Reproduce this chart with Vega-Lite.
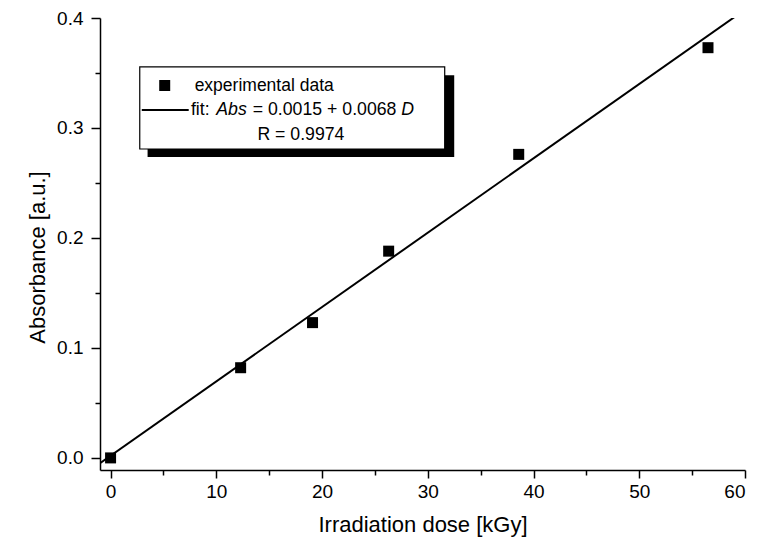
{
  "$schema": "https://vega.github.io/schema/vega-lite/v6.json",
  "width": 645,
  "height": 452,
  "autosize": "none",
  "padding": {"left": 100, "top": 18, "right": 17, "bottom": 70},
  "background": "white",
  "config": {
    "view": {"stroke": null},
    "font": "Liberation Sans",
    "axis": {
      "domainColor": "black", "domainWidth": 1.5,
      "tickColor": "black", "tickWidth": 1.5,
      "labelColor": "black", "titleColor": "black",
      "labelFont": "Liberation Sans", "titleFont": "Liberation Sans",
      "labelFontSize": 19, "titleFontSize": 22, "titleFontWeight": "normal",
      "grid": false
    }
  },
  "datasets": {
    "measured": [
      {"D": 0, "Abs": 0.0},
      {"D": 12.3, "Abs": 0.082},
      {"D": 19.1, "Abs": 0.123},
      {"D": 26.3, "Abs": 0.188},
      {"D": 38.6, "Abs": 0.276},
      {"D": 56.5, "Abs": 0.373}
    ],
    "fit": [
      {"D": -1, "Abs": -0.0048},
      {"D": 59.1, "Abs": 0.4015}
    ]
  },
  "layer": [
    {
      "data": {"name": "fit"},
      "mark": {"type": "line", "color": "black", "strokeWidth": 2, "clip": true},
      "encoding": {
        "x": {"field": "D", "type": "quantitative",
          "scale": {"domain": [-1, 60], "nice": false, "zero": false},
          "axis": {"orient": "bottom", "values": [0, 10, 20, 30, 40, 50, 60], "tickSize": 8, "labelPadding": 4, "title": "Irradiation dose [kGy]", "titlePadding": 13}},
        "y": {"field": "Abs", "type": "quantitative",
          "scale": {"domain": [-0.011, 0.4], "nice": false, "zero": false},
          "axis": {"orient": "left", "values": [0, 0.1, 0.2, 0.3, 0.4], "format": ".1f", "tickSize": 9, "labelPadding": 8, "title": "Absorbance [a.u.]", "titlePadding": 7, "titleY": 239}}
      }
    },
    {
      "data": {"name": "measured"},
      "mark": {"type": "square", "size": 121, "color": "black", "filled": true, "opacity": 1},
      "encoding": {
        "x": {"field": "D", "type": "quantitative",
          "axis": {"orient": "bottom", "values": [5, 15, 25, 35, 45, 55], "tickSize": 5, "labels": false, "domain": false, "title": null}},
        "y": {"field": "Abs", "type": "quantitative",
          "axis": {"orient": "left", "values": [0.05, 0.15, 0.25, 0.35], "tickSize": 5, "labels": false, "domain": false, "title": null}}
      }
    },
    {
      "data": {"values": [{}]},
      "mark": {"type": "rect", "fill": "black"},
      "encoding": {
        "x": {"datum": 3.5, "type": "quantitative", "axis": null},
        "x2": {"datum": 32.5},
        "y": {"datum": 0.348, "type": "quantitative", "axis": null},
        "y2": {"datum": 0.2736}
      }
    },
    {
      "data": {"values": [{}]},
      "mark": {"type": "rect", "fill": "white", "stroke": "black", "strokeWidth": 1.2},
      "encoding": {
        "x": {"datum": 2.76, "type": "quantitative", "axis": null},
        "x2": {"datum": 31.6},
        "y": {"datum": 0.3555, "type": "quantitative", "axis": null},
        "y2": {"datum": 0.2809}
      }
    },
    {
      "data": {"values": [{}]},
      "mark": {"type": "square", "size": 121, "color": "black", "filled": true, "opacity": 1},
      "encoding": {
        "x": {"datum": 5.12, "type": "quantitative", "axis": null},
        "y": {"datum": 0.3386, "type": "quantitative", "axis": null}
      }
    },
    {
      "data": {"values": [{}]},
      "mark": {"type": "rule", "color": "black", "strokeWidth": 2},
      "encoding": {
        "x": {"datum": 2.95, "type": "quantitative", "axis": null},
        "x2": {"datum": 7.39},
        "y": {"datum": 0.3164, "type": "quantitative", "axis": null}
      }
    },
    {
      "data": {"values": [{"label": "experimental data"}]},
      "mark": {"type": "text", "align": "left", "baseline": "middle", "fontSize": 17.5, "color": "black"},
      "encoding": {
        "text": {"field": "label"},
        "x": {"datum": 7.95, "type": "quantitative", "axis": null},
        "y": {"datum": 0.3386, "type": "quantitative", "axis": null}
      }
    },
    {
      "data": {"values": [{"label": "fit:"}]},
      "mark": {"type": "text", "align": "left", "baseline": "middle", "fontSize": 17.7, "color": "black"},
      "encoding": {
        "text": {"field": "label"},
        "x": {"datum": 7.6, "type": "quantitative", "axis": null},
        "y": {"datum": 0.3164, "type": "quantitative", "axis": null}
      }
    },
    {
      "data": {"values": [{"label": "Abs"}]},
      "mark": {"type": "text", "align": "left", "baseline": "middle", "fontSize": 17.7, "fontStyle": "italic", "color": "black"},
      "encoding": {
        "text": {"field": "label"},
        "x": {"datum": 10.0, "type": "quantitative", "axis": null},
        "y": {"datum": 0.3164, "type": "quantitative", "axis": null}
      }
    },
    {
      "data": {"values": [{"label": "= 0.0015 + 0.0068"}]},
      "mark": {"type": "text", "align": "left", "baseline": "middle", "fontSize": 17.7, "color": "black"},
      "encoding": {
        "text": {"field": "label"},
        "x": {"datum": 13.45, "type": "quantitative", "axis": null},
        "y": {"datum": 0.3164, "type": "quantitative", "axis": null}
      }
    },
    {
      "data": {"values": [{"label": "D"}]},
      "mark": {"type": "text", "align": "left", "baseline": "middle", "fontSize": 17.7, "fontStyle": "italic", "color": "black"},
      "encoding": {
        "text": {"field": "label"},
        "x": {"datum": 27.5, "type": "quantitative", "axis": null},
        "y": {"datum": 0.3164, "type": "quantitative", "axis": null}
      }
    },
    {
      "data": {"values": [{"label": "R = 0.9974"}]},
      "mark": {"type": "text", "align": "center", "baseline": "middle", "fontSize": 17.7, "color": "black"},
      "encoding": {
        "text": {"field": "label"},
        "x": {"datum": 18.0, "type": "quantitative", "axis": null},
        "y": {"datum": 0.2932, "type": "quantitative", "axis": null}
      }
    }
  ],
  "resolve": {"axis": {"x": "independent", "y": "independent"}}
}
